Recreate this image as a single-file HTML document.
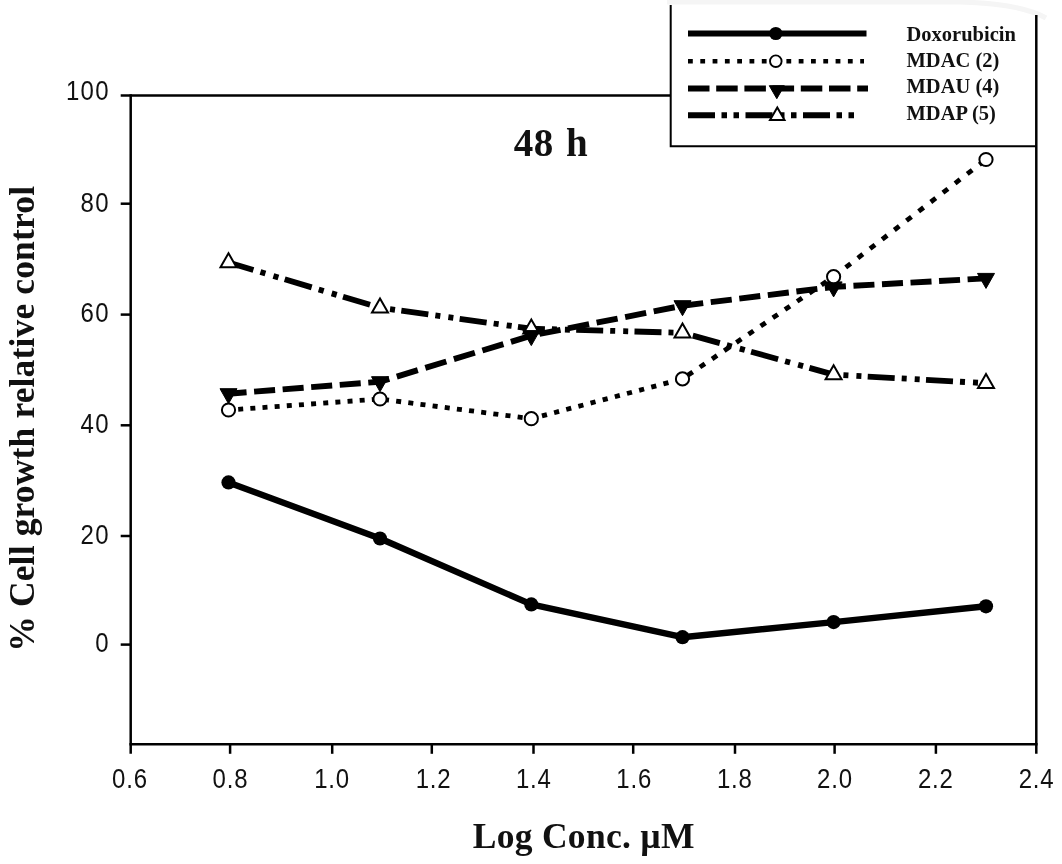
<!DOCTYPE html>
<html lang="en"><head><meta charset="utf-8"><title>48 h cell growth</title>
<style>
html,body{margin:0;padding:0;background:#fff;}
body{width:1062px;height:864px;overflow:hidden;position:relative;}
svg{position:absolute;left:0;top:0;display:block;}
.ax{font-family:"Liberation Sans",Arial,sans-serif;font-size:24px;fill:#111;letter-spacing:1.3px;}
.lb{font-family:"Liberation Serif","Times New Roman",serif;font-weight:bold;fill:#111;}
</style></head><body>
<svg width="1062" height="864" viewBox="0 0 1062 864">
<rect x="0" y="0" width="1062" height="864" fill="#fff"/>
<path d="M667 2 H960 C1000 3 1030 9 1046 18" fill="none" stroke="#f5f5f5" stroke-width="5"/>

<g stroke="#000" stroke-width="2.5" fill="none" stroke-linecap="butt">
<path d="M130.7 94.3 V753.8"/>
<path d="M120.69999999999999 95.5 H671"/>
<path d="M129.39999999999998 744.3 H1037.6"/>
<path d="M1036.3 15 V753.8"/>
<path d="M120.69999999999999 644.6 H130.7"/>
<path d="M120.69999999999999 536.0 H130.7"/>
<path d="M120.69999999999999 425.3 H130.7"/>
<path d="M120.69999999999999 314.6 H130.7"/>
<path d="M120.69999999999999 203.7 H130.7"/>
<path d="M230.1 744.3 V753.8"/>
<path d="M332.2 744.3 V753.8"/>
<path d="M431.8 744.3 V753.8"/>
<path d="M533.5 744.3 V753.8"/>
<path d="M633.2 744.3 V753.8"/>
<path d="M735.0 744.3 V753.8"/>
<path d="M834.6 744.3 V753.8"/>
<path d="M935.9 744.3 V753.8"/>
</g>
<g stroke="#000" stroke-width="2" fill="none"><path d="M670.7 5 V146.3 H1036"/></g>
<text class="ax" transform="translate(109.8 652.2) scale(1 1.14)" text-anchor="end">0</text>
<text class="ax" transform="translate(109.8 543.7) scale(1 1.14)" text-anchor="end">20</text>
<text class="ax" transform="translate(109.8 432.8) scale(1 1.14)" text-anchor="end">40</text>
<text class="ax" transform="translate(109.8 322.2) scale(1 1.14)" text-anchor="end">60</text>
<text class="ax" transform="translate(109.8 211.6) scale(1 1.14)" text-anchor="end">80</text>
<text class="ax" transform="translate(109.8 100.3) scale(1 1.14)" text-anchor="end">100</text>
<text class="ax" style="letter-spacing:0.8px" transform="translate(129.9 787.6) scale(1 1.18)" text-anchor="middle">0.6</text>
<text class="ax" style="letter-spacing:0.8px" transform="translate(230.4 787.6) scale(1 1.18)" text-anchor="middle">0.8</text>
<text class="ax" style="letter-spacing:0.8px" transform="translate(332.0 787.6) scale(1 1.18)" text-anchor="middle">1.0</text>
<text class="ax" style="letter-spacing:0.8px" transform="translate(433.6 787.6) scale(1 1.18)" text-anchor="middle">1.2</text>
<text class="ax" style="letter-spacing:0.8px" transform="translate(533.8 787.6) scale(1 1.18)" text-anchor="middle">1.4</text>
<text class="ax" style="letter-spacing:0.8px" transform="translate(634.2 787.6) scale(1 1.18)" text-anchor="middle">1.6</text>
<text class="ax" style="letter-spacing:0.8px" transform="translate(734.8 787.6) scale(1 1.18)" text-anchor="middle">1.8</text>
<text class="ax" style="letter-spacing:0.8px" transform="translate(834.9 787.6) scale(1 1.18)" text-anchor="middle">2.0</text>
<text class="ax" style="letter-spacing:0.8px" transform="translate(935.8 787.6) scale(1 1.18)" text-anchor="middle">2.2</text>
<text class="ax" style="letter-spacing:0.8px" transform="translate(1036.6 787.6) scale(1 1.18)" text-anchor="middle">2.4</text>
<text class="lb" x="551" y="156.2" font-size="39" letter-spacing="0.5" word-spacing="2" text-anchor="middle">48 h</text>
<text class="lb" x="583.8" y="848.2" font-size="35.5" letter-spacing="0.3" text-anchor="middle">Log Conc. µM</text>
<text class="lb" font-size="35.5" letter-spacing="0.15" text-anchor="middle" transform="translate(34.3 418.8) rotate(-90)">% Cell growth relative control</text>
<g fill="none" stroke="#000" stroke-linejoin="round">
<path d="M228.5 410.0 L380.0 399.0" stroke-width="4.8" stroke-dasharray="5.01 7.17" stroke-dashoffset="2.46"/>
<path d="M380.0 399.0 L531.3 418.7" stroke-width="4.8" stroke-dasharray="5.04 7.21" stroke-dashoffset="8.22"/>
<path d="M531.3 418.7 L682.5 378.9" stroke-width="4.8" stroke-dasharray="5.17 7.39" stroke-dashoffset="1.55"/>
<path d="M682.5 378.9 L833.6 276.7" stroke-width="4.8" stroke-dasharray="6.04 8.63" stroke-dashoffset="8.33"/>
<path d="M833.6 276.7 L986.0 159.5" stroke-width="4.8" stroke-dasharray="6.31 9.02" stroke-dashoffset="0.06"/>
<path d="M228.5 262.5 L380.0 307.8" stroke-width="5.8" stroke-dasharray="28.18 7.31 5.22 8.35 5.22 6.58" stroke-dashoffset="2.19"/>
<path d="M380.0 307.8 L531.3 328.7" stroke-width="5.8" stroke-dasharray="27.26 7.07 5.05 8.08 5.05 6.36" stroke-dashoffset="37.35"/>
<path d="M531.3 328.7 L682.5 332.8" stroke-width="5.8" stroke-dasharray="27.01 7.00 5.00 8.00 5.00 6.30" stroke-dashoffset="13.40"/>
<path d="M682.5 332.8 L833.6 374.6" stroke-width="5.8" stroke-dasharray="28.01 7.26 5.19 8.30 5.19 6.54" stroke-dashoffset="49.80"/>
<path d="M833.6 374.6 L986.0 383.2" stroke-width="5.8" stroke-dasharray="27.04 7.01 5.01 8.01 5.01 6.31" stroke-dashoffset="24.24"/>
<path d="M228.5 393.7 L380.0 381.7" stroke-width="5.9" stroke-dasharray="21.07 7.56" stroke-dashoffset="2.95"/>
<path d="M380.0 381.7 L531.3 335.6" stroke-width="5.9" stroke-dasharray="21.95 7.88" stroke-dashoffset="12.27"/>
<path d="M531.3 335.6 L682.5 305.7" stroke-width="5.9" stroke-dasharray="21.41 7.69" stroke-dashoffset="20.73"/>
<path d="M682.5 305.7 L833.6 286.9" stroke-width="5.9" stroke-dasharray="21.16 7.60" stroke-dashoffset="0.30"/>
<path d="M833.6 286.9 L986.0 278.4" stroke-width="5.9" stroke-dasharray="21.03 7.55" stroke-dashoffset="8.71"/>
<polyline points="228.5,482.4 380.0,538.5 531.3,604.4 682.5,637.2 833.6,622.1 986.0,606.3" stroke-width="6.4"/>
</g>
<g>
<path d="M228.5 253.2 L236.5 267.2 L220.5 267.2 Z" fill="#fff" stroke="#000" stroke-width="2"/>
<path d="M380.0 298.5 L388.0 312.5 L372.0 312.5 Z" fill="#fff" stroke="#000" stroke-width="2"/>
<path d="M531.3 319.4 L539.3 333.4 L523.3 333.4 Z" fill="#fff" stroke="#000" stroke-width="2"/>
<path d="M682.5 323.5 L690.5 337.5 L674.5 337.5 Z" fill="#fff" stroke="#000" stroke-width="2"/>
<path d="M833.6 365.3 L841.6 379.3 L825.6 379.3 Z" fill="#fff" stroke="#000" stroke-width="2"/>
<path d="M986.0 373.9 L994.0 387.9 L978.0 387.9 Z" fill="#fff" stroke="#000" stroke-width="2"/>
<path d="M228.5 403.7 L237.0 388.7 L220.0 388.7 Z" fill="#000" stroke="#000" stroke-width="1"/>
<path d="M380.0 391.7 L388.5 376.7 L371.5 376.7 Z" fill="#000" stroke="#000" stroke-width="1"/>
<path d="M531.3 345.6 L539.8 330.6 L522.8 330.6 Z" fill="#000" stroke="#000" stroke-width="1"/>
<path d="M682.5 315.7 L691.0 300.7 L674.0 300.7 Z" fill="#000" stroke="#000" stroke-width="1"/>
<path d="M833.6 296.9 L842.1 281.9 L825.1 281.9 Z" fill="#000" stroke="#000" stroke-width="1"/>
<path d="M986.0 288.4 L994.5 273.4 L977.5 273.4 Z" fill="#000" stroke="#000" stroke-width="1"/>
<circle cx="228.5" cy="410.0" r="6.6" fill="#fff" stroke="#000" stroke-width="2"/>
<circle cx="380.0" cy="399.0" r="6.6" fill="#fff" stroke="#000" stroke-width="2"/>
<circle cx="531.3" cy="418.7" r="6.6" fill="#fff" stroke="#000" stroke-width="2"/>
<circle cx="682.5" cy="378.9" r="6.6" fill="#fff" stroke="#000" stroke-width="2"/>
<circle cx="833.6" cy="276.7" r="6.6" fill="#fff" stroke="#000" stroke-width="2"/>
<circle cx="986.0" cy="159.5" r="6.6" fill="#fff" stroke="#000" stroke-width="2"/>
<circle cx="228.5" cy="482.4" r="7.1" fill="#000"/>
<circle cx="380.0" cy="538.5" r="7.1" fill="#000"/>
<circle cx="531.3" cy="604.4" r="7.1" fill="#000"/>
<circle cx="682.5" cy="637.2" r="7.1" fill="#000"/>
<circle cx="833.6" cy="622.1" r="7.1" fill="#000"/>
<circle cx="986.0" cy="606.3" r="7.1" fill="#000"/>
</g>
<g fill="none" stroke="#000">
<path d="M688 33.5 H866.5" stroke-width="6.2"/>
<path d="M688 61.2 H864" stroke-width="4.6" stroke-dasharray="4.8 7.5"/>
<path d="M688 88.5 H868" stroke-width="6.2" stroke-dasharray="21.5 6.7"/>
<path d="M688 115.3 H856" stroke-width="6" stroke-dasharray="27 6.5 5.5 6.5 5.5 6.5"/>
</g>
<circle cx="775.8" cy="33.5" r="6.6" fill="#000"/>
<circle cx="775.8" cy="61.2" r="5.8" fill="#fff" stroke="#000" stroke-width="1.9"/>
<path d="M776.8 98.7 L784.3 85.7 L769.3 85.7 Z" fill="#000" stroke="#000" stroke-width="1"/>
<path d="M777.3 107.5 L784.5 120.0 L770.0 120.0 Z" fill="#fff" stroke="#000" stroke-width="2"/>
<text class="lb" x="906.5" y="40.5" font-size="20.5">Doxorubicin</text>
<text class="lb" x="906.5" y="66.9" font-size="20.5">MDAC (2)</text>
<text class="lb" x="906.5" y="93.2" font-size="20.5">MDAU (4)</text>
<text class="lb" x="906.5" y="120.0" font-size="20.5">MDAP (5)</text>
</svg></body></html>
